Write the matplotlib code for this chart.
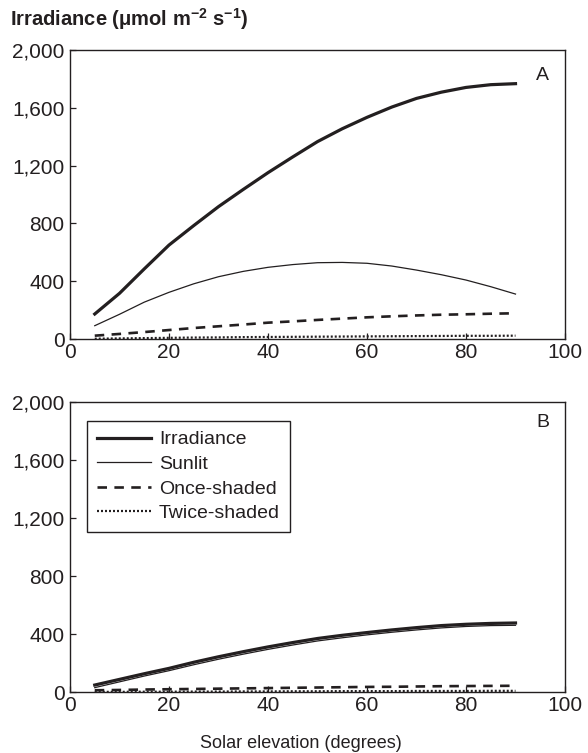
import matplotlib
matplotlib.use("Agg")
import matplotlib.pyplot as plt

plt.rcParams['font.family'] = ['Liberation Sans', 'DejaVu Sans']
plt.rcParams['mathtext.default'] = 'regular'

elevation = [5, 10, 15, 20, 25, 30, 35, 40, 45, 50, 55, 60, 65, 70, 75, 80, 85, 90]

a_irradiance = [173, 316, 485, 650, 785, 916, 1035, 1151, 1260, 1366, 1455, 1534, 1605, 1665, 1708, 1741, 1760, 1767]
a_sunlit = [92, 171, 255, 323, 382, 431, 468, 496, 515, 528, 530, 524, 505, 477, 445, 408, 362, 311]
a_once = [23, 35, 48, 62, 76, 88, 100, 113, 122, 132, 141, 150, 157, 163, 168, 171, 175, 178]
a_twice = [2, 4, 6, 8, 10, 11, 13, 14, 15, 16, 17, 18, 19, 20, 21, 22, 22, 23]

b_irradiance = [48, 87, 126, 163, 205, 243, 278, 311, 341, 369, 391, 410, 428, 444, 458, 467, 473, 476]
b_sunlit = [30, 70, 110, 147, 188, 226, 261, 294, 324, 352, 374, 394, 412, 428, 442, 452, 458, 460]
b_once = [12, 14, 17, 19, 21, 23, 25, 27, 29, 31, 33, 35, 36, 38, 40, 41, 42, 43]
b_twice = [1, 1, 2, 2, 3, 3, 4, 4, 5, 5, 6, 6, 6, 7, 7, 7, 8, 8]

series_labels = ["Irradiance", "Sunlit", "Once-shaded", "Twice-shaded"]
y_ticks = [0, 400, 800, 1200, 1600, 2000]
y_ticklabels = ["0", "400", "800", "1,200", "1,600", "2,000"]
x_ticks = [0, 20, 40, 60, 80, 100]

ink = "#231f20"
tick_fs = 15
leg_fs = 14

fig = plt.figure(figsize=(5.88, 7.53), dpi=100)
ax_a = fig.add_axes([70/588, 1-339/753, 495/588, 289/753])
ax_b = fig.add_axes([70/588, 1-692/753, 495/588, 290/753])

styles = [
    dict(color=ink, lw=2.3, ls='-'),
    dict(color=ink, lw=0.9, ls='-'),
    dict(color=ink, lw=1.9, ls=(0, (3.6, 2.8))),
    dict(color=ink, lw=1.6, ls=(0, (0.9, 0.9))),
]

for ax, data, letter, ly in [
    (ax_a, [a_irradiance, a_sunlit, a_once, a_twice], "A", 0.913),
    (ax_b, [b_irradiance, b_sunlit, b_once, b_twice], "B", 0.928),
]:
    for vals, st, lab in zip(data, styles, series_labels):
        ax.plot(elevation, vals, label=lab, **st)
    ax.set_xlim(0, 100)
    ax.set_ylim(0, 2000)
    ax.set_yticks(y_ticks)
    ax.set_yticklabels(y_ticklabels)
    ax.set_xticks(x_ticks)
    ax.tick_params(direction='in', length=4.3, width=0.9, color=ink,
                   labelsize=tick_fs, labelcolor=ink)
    ax.tick_params(axis='x', pad=3)
    ax.tick_params(axis='y', pad=4)
    for sp in ax.spines.values():
        sp.set_linewidth(1.0)
        sp.set_color(ink)
    ax.text(0.955, ly, letter, transform=ax.transAxes, fontsize=leg_fs,
            color=ink, ha='center', va='center')

leg = ax_b.legend(loc='upper left', bbox_to_anchor=(17/495, 1-19/290),
                  borderaxespad=0, fontsize=leg_fs, fancybox=False,
                  edgecolor=ink, framealpha=1, handlelength=2.8,
                  handletextpad=0.4, labelspacing=0.36, borderpad=0.5)
leg.get_frame().set_linewidth(1.0)
for t in leg.get_texts():
    t.set_color(ink)

fig.text(301/588, 1-743/753, "Solar elevation (degrees)", fontsize=13,
         color=ink, ha='center', va='center')

fig.text(10/588, 1-19.5/753, r"Irradiance ($\mu$mol m$^{-2}$ s$^{-1}$)",
         fontsize=14.5, fontweight='bold', color=ink, ha='left', va='center')

fig.savefig("out.png", dpi=100)
